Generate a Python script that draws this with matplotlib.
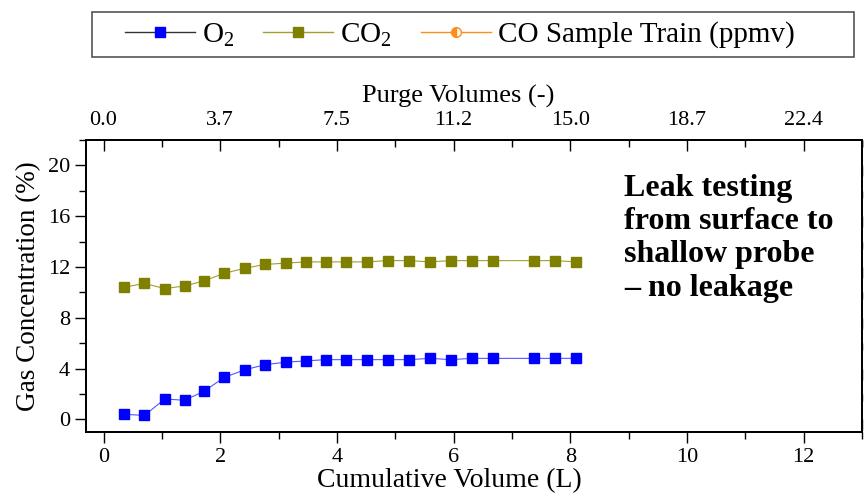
import matplotlib.pyplot as plt
from matplotlib.lines import Line2D
from matplotlib.patches import Rectangle
from matplotlib.ticker import MultipleLocator

plt.rcParams['font.family'] = ['Liberation Serif', 'DejaVu Serif']
plt.rcParams['mathtext.fontset'] = 'custom'
plt.rcParams['mathtext.rm'] = 'Liberation Serif'

# Data
volume = [0.35, 0.70, 1.05, 1.39, 1.72, 2.07, 2.42, 2.77, 3.12, 3.47, 3.81,
          4.16, 4.52, 4.87, 5.24, 5.59, 5.95, 6.31, 6.67, 7.38, 7.74, 8.10]
o2 = [0.4, 0.3, 1.6, 1.5, 2.2, 3.3, 3.9, 4.3, 4.5, 4.6, 4.7,
      4.7, 4.7, 4.7, 4.7, 4.8, 4.7, 4.8, 4.8, 4.8, 4.8, 4.8]
co2 = [10.4, 10.7, 10.3, 10.5, 10.9, 11.5, 11.9, 12.2, 12.3, 12.4, 12.4,
       12.4, 12.4, 12.5, 12.5, 12.4, 12.5, 12.5, 12.5, 12.5, 12.5, 12.4]

top_ticks = [0, 2, 4, 6, 8, 10, 12]
purge_labels = ['0.0', '3.7', '7.5', '11.2', '15.0', '18.7', '22.4']
legend_labels = ['O$_2$', 'CO$_2$', 'CO Sample Train (ppmv)']
note = 'Leak testing\nfrom surface to\nshallow probe\n\u2013 no leakage'

blue = '#0000ff'
olive = '#808000'
orange = '#ff8c1a'

W, H = 865, 498


def style_axis(ax):
    for sp in ax.spines.values():
        sp.set_linewidth(1.3)
    ax.tick_params(which='major', length=8, width=1, labelsize=16)
    ax.tick_params(which='minor', length=5, width=1)


fig = plt.figure(figsize=(W / 100, H / 100), dpi=100)
ax = fig.add_axes([86 / W, 1 - 432 / H, 776 / W, 292 / H])

ax.plot(volume, co2, color='#a0a030', lw=0.8, marker='s', ms=7.4,
        mfc=olive, mec=olive)
ax.plot(volume, o2, color='#5555ff', lw=0.8, marker='s', ms=7.4,
        mfc=blue, mec=blue)

ax.set_xlim(-0.3, 13)
ax.set_ylim(-1, 22)
ax.xaxis.set_major_locator(MultipleLocator(2))
ax.xaxis.set_minor_locator(MultipleLocator(1))
ax.yaxis.set_minor_locator(MultipleLocator(2))
ax.set_yticks([0, 4, 8, 12, 16, 20])
ax.tick_params(which='both', direction='out', right=True)
style_axis(ax)
ax.set_xlabel('Cumulative Volume (L)', fontsize=20)
ax.xaxis.set_label_coords(0.468, -0.125)
ax.set_ylabel('Gas Concentration (%)', fontsize=19.5)
ax.yaxis.set_label_coords(-0.058, 0.5)

# right side ticks point inward, left ones outward
for t in ax.yaxis.get_major_ticks() + ax.yaxis.get_minor_ticks():
    t.tick2line.set_marker(3)

# Top axis: purge volumes
ax2 = ax.twiny()
ax2.set_xlim(ax.get_xlim())
ax2.set_xticks(top_ticks)
ax2.set_xticklabels(purge_labels)
ax2.xaxis.set_minor_locator(MultipleLocator(1))
ax2.tick_params(which='both', direction='in', pad=7)
style_axis(ax2)
ax2.set_xlabel('Purge Volumes (-)', fontsize=19)
ax2.xaxis.set_label_coords(0.479, 1.128)

ax.text(0.693, 0.885, note, transform=ax.transAxes, ha='left', va='top',
        fontsize=23, fontweight='bold', linespacing=1.2)

# Legend box on top
handles = [
    Line2D([], [], color='#333333', lw=1, marker='s', ms=7, mfc=blue, mec=blue),
    Line2D([], [], color='#a0a030', lw=1, marker='s', ms=7, mfc=olive, mec=olive),
    Line2D([], [], color=orange, lw=1, marker='o', ms=7, mfc=orange, mec=orange,
           fillstyle='left', markerfacecoloralt='white'),
]
fig.legend(handles, legend_labels, loc='center left',
           bbox_to_anchor=(125 / W, 1 - 35 / H), ncol=3,
           fontsize=21, frameon=False, handlelength=2.4, handletextpad=0.24,
           columnspacing=1.0, borderpad=0, borderaxespad=0)
fig.patches.append(Rectangle((92 / W, 1 - 57 / H), 762 / W, 45 / H,
                             transform=fig.transFigure, fill=False,
                             edgecolor='#555555', lw=1.2))

fig.savefig('out.png', dpi=100)
